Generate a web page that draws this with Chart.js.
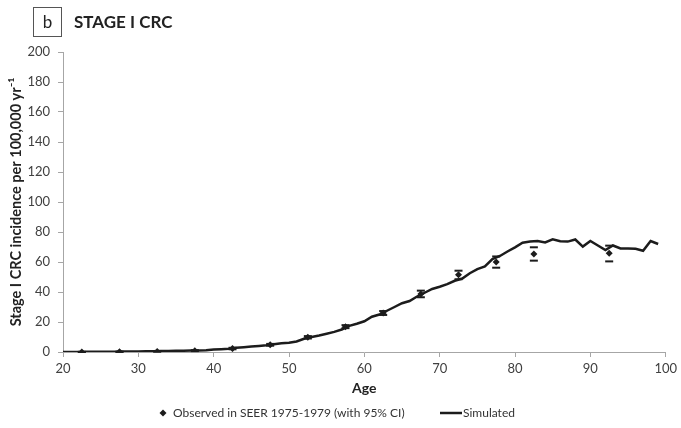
<html lang="en">
  <head>
    <meta charset="utf-8" />
    <title>Stage I CRC incidence</title>
    <script src="https://cdn.jsdelivr.net/npm/chart.js@4.4.1/dist/chart.umd.min.js"></script>
    <style>
      html,
      body {
        margin: 0;
        padding: 0;
        background: #fff;
      }

      #chartDiv {
        position: relative;
        width: 681px;
        height: 428px;
      }
    </style>
  </head>

  <body>
    <div id="chartDiv">
      <canvas id="incidence-chart"></canvas>
    </div>

    <script>
      // simulated incidence, one value per year of age
      const simAges = [];
      for (let a = 20; a <= 99; a++) simAges.push(a);
      const simValues = [
        0.0, 0.0, 0.05, 0.1, 0.1, 0.15, 0.2, 0.2, 0.3, 0.3,
        0.4, 0.5, 0.5, 0.6, 0.7, 0.8, 0.9, 1.0, 1.0, 1.2,
        1.6, 1.9, 2.2, 2.8, 3.2, 3.6, 4.0, 4.5, 5.2, 5.8,
        6.2, 7.0, 8.8, 10.0, 11.0, 12.2, 13.4, 15.0, 17.4, 18.8,
        20.5, 23.5, 25.0, 27.5, 30.0, 32.5, 34.0, 37.0, 39.5, 42.0,
        43.5, 45.2, 47.5, 49.0, 52.5, 55.3, 57.0, 62.0, 64.0, 67.0,
        69.8, 72.8, 73.6, 74.0, 73.0, 75.1, 73.8, 73.6, 75.0, 70.3,
        74.0, 71.0, 68.0, 71.0, 69.0, 69.0, 68.8, 67.5, 74.0, 72.0
      ];

      // SEER 1975-1979, 5-year age groups (midpoints) with 95% CI
      const obsAges = [22.5, 27.5, 32.5, 37.5, 42.5, 47.5, 52.5, 57.5, 62.5, 67.5, 72.5, 77.5, 82.5, 92.5];
      const obsValues = [0.05, 0.15, 0.4, 0.9, 2.3, 4.8, 9.8, 16.9, 26.0, 38.7, 51.5, 60.0, 65.3, 65.8];
      const obsLow = [0.0, 0.05, 0.2, 0.6, 1.8, 4.2, 9.0, 15.9, 24.7, 36.5, 48.5, 56.2, 60.9, 60.4];
      const obsHigh = [0.1, 0.25, 0.6, 1.2, 2.8, 5.4, 10.6, 17.9, 27.3, 40.9, 54.2, 63.7, 69.8, 70.9];

      const xTicks = [20, 30, 40, 50, 60, 70, 80, 90, 100];
      const yTicks = [0, 20, 40, 60, 80, 100, 120, 140, 160, 180, 200];

      const ink = "#1c1c1c";
      const axisGrey = "#a6a6a6";
      const family = "Lato, 'Open Sans', sans-serif";

      // caps of the confidence intervals
      const errorBars = {
        id: "errorBars",
        afterDatasetsDraw(chart) {
          const { ctx, scales: { x, y } } = chart;
          ctx.save();
          ctx.fillStyle = ink;
          obsAges.forEach((age, i) => {
            const px = x.getPixelForValue(age);
            [obsLow[i], obsHigh[i]].forEach((v) => {
              const py = y.getPixelForValue(v);
              ctx.fillRect(px - 4, py - 1, 8, 2);
            });
          });
          ctx.restore();
        }
      };

      // panel letter, heading and legend
      const decorations = {
        id: "decorations",
        afterDraw(chart) {
          const ctx = chart.ctx;
          ctx.save();
          ctx.strokeStyle = "#555";
          ctx.lineWidth = 1;
          ctx.strokeRect(33.5, 7.5, 28, 29);
          ctx.fillStyle = "#222";
          ctx.textBaseline = "middle";
          ctx.textAlign = "center";
          ctx.font = "17px " + family;
          ctx.fillText("b", 47.5, 23);
          ctx.textAlign = "left";
          ctx.font = "bold 17px " + family;
          ctx.fillText("STAGE I CRC", 74, 23);

          // legend
          const ly = 413;
          ctx.font = "12px " + family;
          ctx.beginPath();
          ctx.moveTo(163, ly - 3.5);
          ctx.lineTo(166.5, ly);
          ctx.lineTo(163, ly + 3.5);
          ctx.lineTo(159.5, ly);
          ctx.closePath();
          ctx.fillStyle = ink;
          ctx.fill();
          ctx.fillStyle = "#333";
          ctx.fillText("Observed in SEER 1975-1979 (with 95% CI)", 173, ly);
          ctx.strokeStyle = ink;
          ctx.lineWidth = 2.5;
          ctx.beginPath();
          ctx.moveTo(440, ly);
          ctx.lineTo(462, ly);
          ctx.stroke();
          ctx.fillText("Simulated", 463, ly);
          ctx.restore();
        }
      };

      new Chart(document.getElementById("incidence-chart"), {
        type: "line",
        data: {
          datasets: [
            {
              label: "Observed in SEER 1975-1979 (with 95% CI)",
              data: obsAges.map((a, i) => ({ x: a, y: obsValues[i] })),
              showLine: false,
              pointStyle: "rectRot",
              pointRadius: 3.5,
              pointBackgroundColor: ink,
              pointBorderColor: ink,
              pointBorderWidth: 0,
              order: 0
            },
            {
              label: "Simulated",
              data: simAges.map((a, i) => ({ x: a, y: simValues[i] })),
              borderColor: ink,
              borderWidth: 2.5,
              pointRadius: 0,
              tension: 0,
              order: 1
            }
          ]
        },
        options: {
          responsive: true,
          maintainAspectRatio: false,
          animation: false,
          layout: {
            padding: { left: 0, right: 13, top: 52, bottom: 31 }
          },
          scales: {
            x: {
              type: "linear",
              min: 20,
              max: 100,
              afterFit: (scale) => { scale.height = 45; },
              afterBuildTicks: (scale) => { scale.ticks = xTicks.map((v) => ({ value: v })); },
              grid: { drawOnChartArea: false, drawTicks: true, tickLength: 5, color: axisGrey },
              border: { color: axisGrey, width: 1 },
              ticks: {
                padding: 4,
                color: "#404040",
                font: { family: family, size: 13 },
                maxRotation: 0
              },
              title: {
                display: true,
                text: "Age",
                color: "#222",
                padding: { top: 0, bottom: 0 },
                font: { family: family, size: 14, weight: "bold" }
              }
            },
            y: {
              min: 0,
              max: 200,
              afterFit: (scale) => { scale.width = 63; },
              afterBuildTicks: (scale) => { scale.ticks = yTicks.map((v) => ({ value: v })); },
              grid: { drawOnChartArea: false, drawTicks: true, tickLength: 5, color: axisGrey },
              border: { color: axisGrey, width: 1 },
              ticks: {
                padding: 8,
                color: "#404040",
                font: { family: family, size: 13 }
              },
              title: {
                display: true,
                text: "Stage I CRC incidence per 100,000 yr\u207B\u00B9",
                color: "#222",
                padding: { top: 8, bottom: 0 },
                font: { family: family, size: 14.5, weight: "bold" }
              }
            }
          },
          plugins: {
            legend: { display: false },
            tooltip: { enabled: false }
          }
        },
        plugins: [errorBars, decorations]
      });
    </script>
  </body>
</html>
